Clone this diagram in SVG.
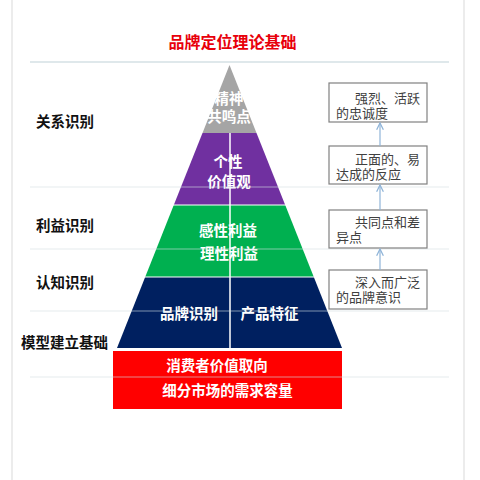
<svg xmlns="http://www.w3.org/2000/svg" width="480" height="480" viewBox="0 0 480 480">
<defs>
<style>
.grid{stroke:#d5e0e4;stroke-width:1.5;fill:none}
.frame{stroke:#e6e6e6;stroke-width:1.5;fill:none}
.lbl{font-family:"Liberation Sans","Noto Sans CJK SC",sans-serif;font-weight:bold;font-size:14.5px;fill:#111}
.wt{font-family:"Liberation Sans","Noto Sans CJK SC",sans-serif;font-weight:bold;font-size:14.5px;fill:#fff;text-anchor:middle}
.box{fill:#fff;stroke:#808080;stroke-width:1.2}
.bt{font-family:"Liberation Sans","Noto Sans CJK SC",sans-serif;font-size:13px;fill:#404040}
.conn{stroke:#8fb4d8;stroke-width:1.2;fill:none}
</style>
<marker id="arr" viewBox="0 0 10 10" refX="9" refY="5" markerWidth="7" markerHeight="7" orient="auto">
<path d="M1,1 L9,5 L1,9" fill="none" stroke="#8fb4d8" stroke-width="1.5"/>
</marker>
</defs>
<rect width="480" height="480" fill="#fff"/>
<line class="frame" x1="12" y1="0" x2="12" y2="480"/>
<line class="frame" x1="464" y1="0" x2="464" y2="480"/>
<line class="grid" x1="30" y1="62" x2="449" y2="62"/>
<text x="232.5" y="48" font-family="Liberation Sans,Noto Sans CJK SC,sans-serif" font-weight="bold" font-size="16" fill="#e8000b" text-anchor="middle">品牌定位理论基础</text>

<g id="pyr-top">
<polygon points="229.5,65 256.5,133 202.5,133" fill="#a5a5a5"/>
<text class="wt" x="229" y="104">精神</text>
<text class="wt" x="229" y="122">共鸣点</text>
</g>
<g id="pyr-purple">
<polygon points="202.5,133 256.5,133 285.2,205 173.8,205" fill="#7030a0"/>
<text class="wt" x="228" y="167">个性</text>
<text class="wt" x="229" y="187">价值观</text>
</g>
<g id="pyr-green">
<polygon points="173.8,205 285.2,205 313.8,277 145.2,277" fill="#00b050"/>
<text class="wt" x="228" y="236">感性利益</text>
<text class="wt" x="229" y="259">理性利益</text>
</g>
<g id="pyr-navy">
<polygon points="145.2,277 313.8,277 342,348 117,348" fill="#002060"/>
<text class="wt" x="189" y="319">品牌识别</text>
<text class="wt" x="269.5" y="319">产品特征</text>
</g>
<g id="base">
<rect x="113" y="351" width="229" height="58" fill="#ff0000"/>
<text class="wt" x="217" y="371">消费者价值取向</text>
<text class="wt" x="227.5" y="396">细分市场的需求容量</text>
</g>
<g stroke="#fff" stroke-width="1">
<line x1="173" y1="205" x2="286" y2="205"/>
<line x1="145" y1="277" x2="314" y2="277"/>
<line x1="230" y1="133" x2="230" y2="348" stroke-width="1.5"/>
</g>
<g opacity="0.4">
<line class="grid" x1="30" y1="187" x2="449" y2="187"/>
<line class="grid" x1="30" y1="249" x2="449" y2="249"/>
<line class="grid" x1="30" y1="311" x2="449" y2="311"/>
<line class="grid" x1="30" y1="377" x2="449" y2="377"/>
</g>

<g id="labels">
<text class="lbl" x="36" y="127">关系识别</text>
<text class="lbl" x="36" y="231">利益识别</text>
<text class="lbl" x="36" y="288">认知识别</text>
<text class="lbl" x="21" y="348">模型建立基础</text>
</g>

<g id="box1">
<rect class="box" x="329" y="83" width="98" height="39"/>
<text class="bt" x="355" y="103">强烈、活跃</text>
<text class="bt" x="336" y="118">的忠诚度</text>
</g>
<g id="box2">
<rect class="box" x="329" y="146" width="98" height="38"/>
<text class="bt" x="355" y="164">正面的、易</text>
<text class="bt" x="336" y="179">达成的反应</text>
</g>
<g id="box3">
<rect class="box" x="329" y="210" width="98" height="38"/>
<text class="bt" x="355" y="227">共同点和差</text>
<text class="bt" x="336" y="242">异点</text>
</g>
<g id="box4">
<rect class="box" x="329" y="270" width="98" height="39"/>
<text class="bt" x="355" y="287">深入而广泛</text>
<text class="bt" x="336" y="302">的品牌意识</text>
</g>
<g id="connectors">
<line class="conn" x1="380" y1="270" x2="380" y2="249" marker-end="url(#arr)"/>
<line class="conn" x1="380" y1="210" x2="380" y2="185" marker-end="url(#arr)"/>
<line class="conn" x1="380" y1="146" x2="380" y2="123" marker-end="url(#arr)"/>
</g>
</svg>
